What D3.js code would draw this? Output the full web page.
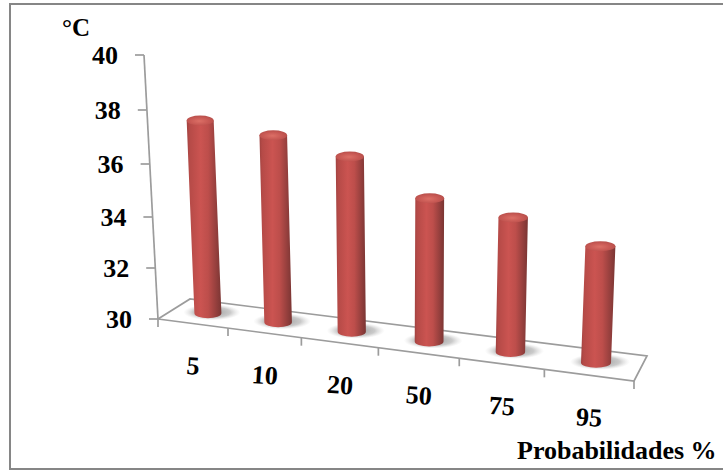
<!DOCTYPE html>
<html>
<head>
<meta charset="utf-8">
<script src="https://cdn.jsdelivr.net/npm/d3@7"></script>
<style>
  html, body { margin: 0; padding: 0; background: #fff; }
  svg { display: block; }
  text { font-family: "Liberation Serif", "Times New Roman", serif; font-weight: bold; fill: #000; }
</style>
</head>
<body>
<svg id="chart" width="723" height="470"></svg>
<script>
// Temperature reached at each probability level
const categories = ["5", "10", "20", "50", "75", "95"];
const temperatures = [37.4, 37.05, 36.5, 35.25, 34.85, 34.15];
const valueTicks = [30, 32, 34, 36, 38, 40];
const yUnit = "°C";
const xTitle = "Probabilidades %";

const svg = d3.select("#chart");
const defs = svg.append("defs");

// Corners of the tilted floor
const frontLeft = [158, 319], frontRight = [634, 381];
const backLeft = [190, 299], backRight = [647, 356];
const axisTop = [144, 55];

// Vertical positions along the value axis, foreshortened toward the top
const y = d3.scaleLinear().domain(valueTicks).range([319, 268, 217, 164, 110, 55]);
const axisX = d3.scaleLinear().domain([30, 40]).range([frontLeft[0], axisTop[0]]);

// Perspective position along the floor: 0 at the left edge, 1 at the right edge
const depthK = 1.16;
const along = t => t / (t + (1 - t) * depthK);
const mix = (a, b, s) => [a[0] + (b[0] - a[0]) * s, a[1] + (b[1] - a[1]) * s];
const front = t => mix(frontLeft, frontRight, along(t));
const back = t => mix(backLeft, backRight, along(t));

const band = d3.scaleBand().domain(categories).range([0, 1]);
const barWidth = d3.scaleLinear().domain([0, categories.length - 1]).range([27, 30]);
const barScale = d3.scaleLinear().domain([0, categories.length - 1]).range([1, 1.1]);

// Panel border, open on the right where it runs off the page
svg.append("rect").attr("x", 10).attr("y", 4).attr("width", 740).attr("height", 465)
  .attr("fill", "#fff").attr("stroke", "#868686").attr("stroke-width", 2);

// Shared paints
const bodyGrad = defs.append("linearGradient").attr("id", "cyl");
[[0, "#a04240"], [0.08, "#b54a47"], [0.4, "#cb5451"], [0.62, "#bd4e4b"], [0.88, "#8f3d3b"], [1, "#7a3533"]]
  .forEach(([o, c]) => bodyGrad.append("stop").attr("offset", o).attr("stop-color", c));
const capGrad = defs.append("radialGradient").attr("id", "cap").attr("cx", 0.47).attr("cy", 0.55).attr("r", 0.6);
[[0, "#dc6f66"], [0.55, "#c95a55"], [1, "#b44d49"]]
  .forEach(([o, c]) => capGrad.append("stop").attr("offset", o).attr("stop-color", c));
const shadowGrad = defs.append("radialGradient").attr("id", "shade");
[[0, "#7c7c7c", 0.8], [0.65, "#959595", 0.5], [1, "#c4c4c4", 0]]
  .forEach(([o, c, a]) => shadowGrad.append("stop").attr("offset", o).attr("stop-color", c).attr("stop-opacity", a));

// Floor outline
const line = d3.line();
const frame = svg.append("g").attr("fill", "none").attr("stroke", "#9c9c9c").attr("stroke-width", 1.7);
frame.append("path").attr("d", line([frontLeft, backLeft, backRight, frontRight, frontLeft]));

// Value axis, with each tick slid along the slanted spine
const yAxis = svg.append("g").call(d3.axisLeft(y).tickValues(valueTicks).tickSize(9).tickPadding(17).tickFormat(d3.format("d")));
yAxis.select(".domain").remove();
yAxis.selectAll(".tick").attr("transform", d => `translate(${axisX(d)},${y(d)})`);
yAxis.selectAll(".tick line").attr("stroke", "#9c9c9c").attr("stroke-width", 1.7);
yAxis.selectAll(".tick text").attr("font-size", 26).attr("dy", "0.33em")
  .style("font-family", '"Liberation Serif", serif').style("font-weight", "bold");
frame.append("path").attr("d", line([frontLeft, axisTop]));

// Category ticks along the front edge of the floor
const xTicks = d3.range(categories.length + 1).map(i => front(i / categories.length));
frame.selectAll(".xtick").data(xTicks).join("path").attr("class", "xtick")
  .attr("d", p => line([p, [p[0], p[1] + 8]]));

// Category labels, tilted to follow the floor
svg.selectAll(".xlabel").data(categories).join("text").attr("class", "xlabel")
  .attr("font-size", 26).attr("text-anchor", "middle")
  .attr("transform", d => {
    const p = front(band(d) + band.bandwidth() / 2);
    return `translate(${p[0]},${p[1] + 51}) rotate(4)`;
  })
  .text(d => d);

// Cylinders
const bars = svg.selectAll(".bar").data(temperatures).join("g").attr("class", "bar");
bars.each(function (v, i) {
  const g = d3.select(this);
  const t = band(categories[i]) + band.bandwidth() / 2;
  const base = mix(front(t), back(t), 0.5);
  const h = (y(30) - y(v)) * barScale(i);
  const top = [base[0] + (base[0] - 408) * 0.0002 * h, base[1] - h];
  const rx = barWidth(i) / 2, ry = 5;

  g.append("ellipse").attr("cx", base[0] + 4).attr("cy", base[1] - 1)
    .attr("rx", rx + 15).attr("ry", ry + 3).attr("fill", "url(#shade)");
  g.append("path")
    .attr("d", `M${top[0] - rx},${top[1]} L${base[0] - rx},${base[1]}` +
      ` A${rx},${ry} 0 0 0 ${base[0] + rx},${base[1]}` +
      ` L${top[0] + rx},${top[1]} Z`)
    .attr("fill", "url(#cyl)");
  g.append("ellipse").attr("cx", top[0]).attr("cy", top[1])
    .attr("rx", rx).attr("ry", ry).attr("fill", "url(#cap)");
});

// Unit and axis titles
svg.append("text").attr("x", 62).attr("y", 36).attr("font-size", 25).text(yUnit);
svg.append("text").attr("x", 517).attr("y", 459).attr("font-size", 26).text(xTitle);
</script>
</body>
</html>
